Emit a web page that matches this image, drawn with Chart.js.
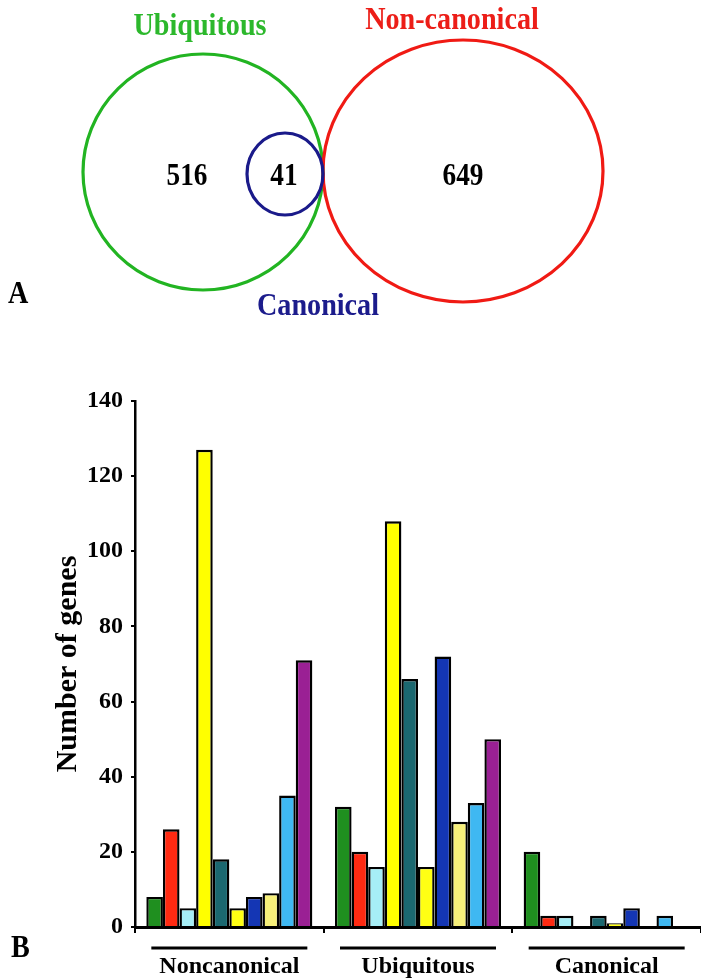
<!DOCTYPE html>
<html>
<head>
<meta charset="utf-8">
<script src="https://cdn.jsdelivr.net/npm/chart.js@4.4.1/dist/chart.umd.min.js"></script>
<style>
  html, body { margin: 0; padding: 0; background: #fff; }
  canvas { display: block; }
</style>
</head>
<body>
<canvas id="genes" width="701" height="979"></canvas>
<script>
// ── Data ────────────────────────────────────────────────
// Panel A (Venn)
const vennNames  = ['Ubiquitous', 'Non-canonical', 'Canonical'];
const vennCounts = [516, 649, 41];

// Panel B (bars), one array per bar colour, values per group
const groups        = ['Noncanonical', 'Ubiquitous', 'Canonical'];
const greenBars     = [8, 32, 20];
const redBars       = [26, 20, 3];
const cyanBars      = [5, 16, 3];
const yellowBars    = [127, 108, 0];
const tealBars      = [18, 66, 3];
const yellow2Bars   = [5, 16, 1];
const blueBars      = [8, 72, 5];
const paleBars      = [9, 28, 0];
const skyBars       = [35, 33, 3];
const purpleBars    = [71, 50, 0];
const yTickValues   = [0, 20, 40, 60, 80, 100, 120, 140];

const SERIF = "'Liberation Serif', 'Times New Roman', serif";

const series = [
    { data: greenBars,   color: '#1f8f1f' },
    { data: redBars,     color: '#ff2a12' },
    { data: cyanBars,    color: '#a6eef6' },
    { data: yellowBars,  color: '#ffff00' },
    { data: tealBars,    color: '#1b6870' },
    { data: yellow2Bars, color: '#ffff14' },
    { data: blueBars,    color: '#1436b4' },
    { data: paleBars,    color: '#f7f07a' },
    { data: skyBars,     color: '#3fb8f2' },
    { data: purpleBars,  color: '#9a2094' }
];

// condensed text (the figure is a bit stretched vertically)
function tallText(ctx, txt, x, y, size, col, align) {
    ctx.save();
    ctx.translate(x, y);
    ctx.scale(0.88, 1);
    ctx.font = 'bold ' + size + 'px ' + SERIF;
    ctx.fillStyle = col;
    ctx.textAlign = align || 'center';
    ctx.textBaseline = 'middle';
    ctx.fillText(txt, 0, 0);
    ctx.restore();
}

// ── Venn + panel letters + group underlines ─────────────
const extras = {
    id: 'extras',
    afterDraw(chart) {
        const ctx = chart.ctx;
        ctx.save();

        const ell = (cx, cy, rx, ry, col) => {
            ctx.beginPath();
            ctx.ellipse(cx, cy, rx, ry, 0, 0, Math.PI * 2);
            ctx.strokeStyle = col;
            ctx.lineWidth = 3.2;
            ctx.stroke();
        };
        ell(203, 172, 120, 118, '#22b422');
        ell(463, 171, 140, 131, '#f01a14');
        ell(285, 174, 38, 41, '#1a1a8a');

        tallText(ctx, vennNames[0], 200, 27, 32, '#2cb82c');
        tallText(ctx, vennNames[1], 452, 21, 32, '#ec1e18');
        tallText(ctx, vennNames[2], 318, 307, 32, '#1c1c8c');

        tallText(ctx, String(vennCounts[0]), 187, 177, 31, '#000');
        tallText(ctx, String(vennCounts[1]), 463, 177, 31, '#000');
        tallText(ctx, String(vennCounts[2]), 284, 177, 31, '#000');

        // panel letters
        tallText(ctx, 'A', 8, 295, 32, '#000', 'left');
        tallText(ctx, 'B', 11, 949, 32, '#000', 'left');

        // group underlines
        const x = chart.scales.x;
        ctx.strokeStyle = '#000';
        ctx.lineWidth = 3;
        groups.forEach((g, i) => {
            const cx = x.getPixelForValue(i);
            ctx.beginPath();
            ctx.moveTo(cx - 78, 948);
            ctx.lineTo(cx + 78, 948);
            ctx.stroke();
        });
        ctx.restore();
    }
};

new Chart(document.getElementById('genes'), {
    type: 'bar',
    data: {
        labels: groups,
        datasets: series.map((s, i) => ({
            label: 'Class ' + (i + 1),
            data: s.data,
            backgroundColor: s.color,
            borderColor: '#000',
            borderWidth: 2.4,
            categoryPercentage: 0.88,
            barPercentage: 1
        }))
    },
    options: {
        responsive: false,
        animation: false,
        devicePixelRatio: 1,
        layout: { padding: { top: 401, right: 0, bottom: 0, left: 0 } },
        plugins: {
            legend: { display: false },
            tooltip: { enabled: false }
        },
        scales: {
            x: {
                grid: { drawOnChartArea: false, color: '#000', lineWidth: 2, tickLength: 6 },
                border: { color: '#000', width: 3 },
                ticks: { color: '#000', padding: 19, font: { family: SERIF, size: 24, weight: 'bold' } },
                afterFit: s => { s.height = 52; }
            },
            y: {
                min: 0,
                max: 140,
                afterBuildTicks: s => { s.ticks = yTickValues.map(v => ({ value: v })); },
                grid: { drawOnChartArea: false, color: '#000', lineWidth: 2, tickLength: 4 },
                border: { color: '#000', width: 2.5 },
                ticks: { color: '#000', padding: 8, font: { family: SERIF, size: 24, weight: 'bold' } },
                title: {
                    display: true,
                    text: 'Number of genes',
                    color: '#000',
                    padding: { top: 50, bottom: 0 },
                    font: { family: SERIF, size: 30, weight: 'bold' }
                },
                afterFit: s => { s.width = 135; }
            }
        }
    },
    plugins: [extras]
});
</script>
</body>
</html>
